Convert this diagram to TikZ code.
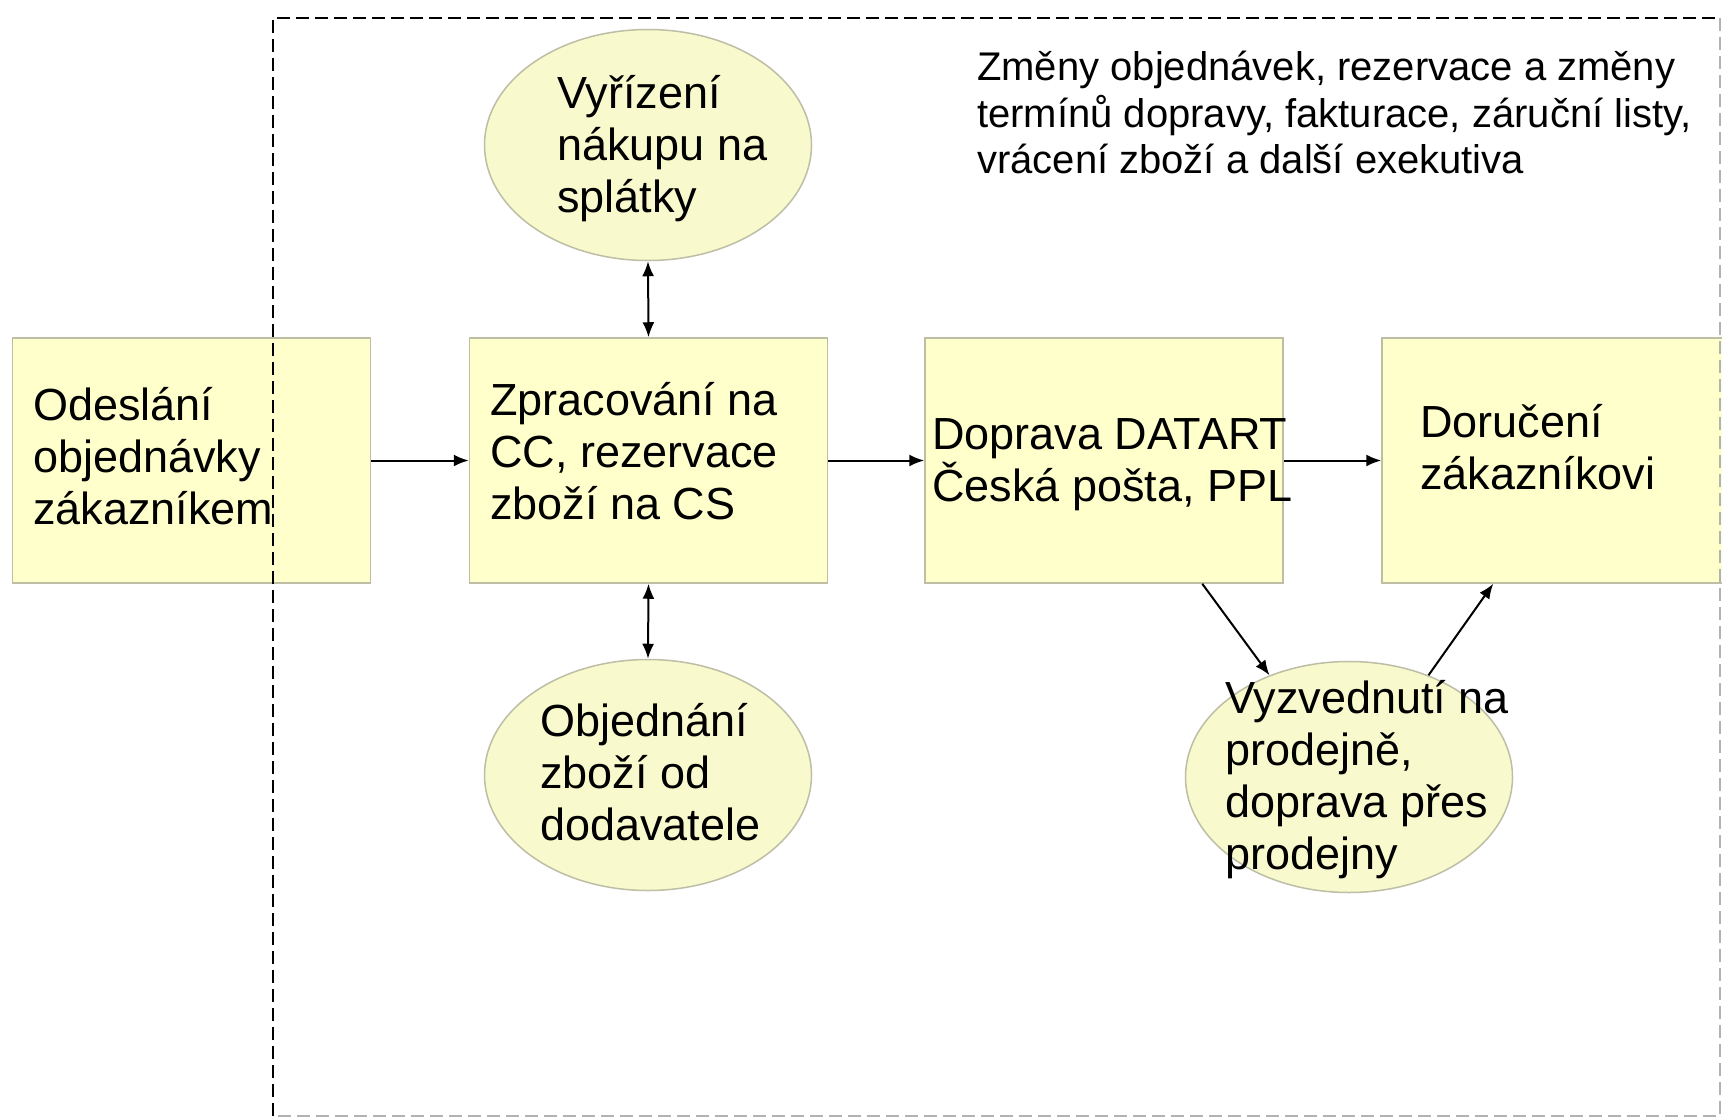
\documentclass[tikz,border=0pt]{standalone}
\usepackage{fontspec}
\setmainfont{Liberation Sans}
\usetikzlibrary{shapes.geometric,arrows.meta,calc}
\definecolor{boxfill}{RGB}{255,255,204}
\definecolor{ellfill}{RGB}{249,249,206}
\definecolor{edgecol}{RGB}{190,190,165}
\begin{document}
\begin{tikzpicture}[x=1pt,y=-1pt,
  box/.style={draw=edgecol,line width=1.5pt,fill=boxfill,rectangle,minimum width=358pt,minimum height=245pt,inner sep=0pt},
  ell/.style={draw=edgecol,line width=1.5pt,fill=ellfill,ellipse,minimum width=327pt,minimum height=231pt,inner sep=0pt},
  txt/.style={anchor=west,align=left,inner sep=0pt,font=\fontsize{45}{52}\selectfont},
  smalltxt/.style={anchor=west,align=left,inner sep=0pt,font=\fontsize{40}{46.5}\selectfont},
  arr/.style={line width=2pt,-{Latex[length=15pt,width=12pt]}},
  darr/.style={line width=2pt,{Latex[length=15pt,width=12pt]}-{Latex[length=15pt,width=12pt]}}
]
\useasboundingbox[fill=white] (0,0) rectangle (1722,1119);

% shapes
\node[box] (b1) at (191.5,460.5) {};
\node[box] (b2) at (648.5,460.5) {};
\node[box] (b3) at (1104,460.5) {};
\node[box] (b4) at (1561,460.5) {};
\node[ell] (e1) at (648,145) {};
\node[ell] (e2) at (648,775) {};
\node[ell] (e3) at (1349,777) {};

% texts
\node[txt] (t1) at (33,456) {Odeslání\\objednávky\\zákazníkem};
\node[txt] (t2) at (490,451) {Zpracování na\\CC, rezervace\\zboží na CS};
\node[txt] (t3) at (932,465) {Doprava DATART\\Česká pošta, PPL};
\node[txt] (t4) at (1420,447.5) {Doručení\\zákazníkovi};
\node[txt] (t5) at (557,148.5) {Vyřízení\\nákupu na\\splátky};
\node[txt] (t6) at (540,772) {Objednání\\zboží od\\dodavatele};
\node[txt] (t7) at (1225,780) {Vyzvednutí na\\prodejně,\\doprava přes\\prodejny};
\node[smalltxt] (t8) at (977,112.5) {Změny objednávek, rezervace a změny\\termínů dopravy, fakturace, záruční listy,\\vrácení zboží a další exekutiva};

% connectors
\draw[arr] (b1.east) -- (b2.west);
\draw[arr] (b2.east) -- (b3.west);
\draw[arr] (b3.east) -- (b4.west);
\draw[darr] (e1.south) -- (b2.north);
\draw[darr] (b2.south) -- (e2.north);
\draw[arr] ($(b3.south west)+(278,0)$) -- (e3.128);
\draw[arr] (e3.52) -- ($(b4.south west)+(112,0)$);

% dashed frame
\coordinate (fTL) at (273,18);
\coordinate (fTR) at (1720,18);
\coordinate (fBL) at (273,1116);
\coordinate (fBR) at (1720,1116);
\draw[line width=2pt,dash pattern=on 13pt off 6pt] (fBL) -- (fTL) -- (fTR);
\draw[line width=2pt,black!30,dash pattern=on 13pt off 6pt] (fTR) -- (fBR) -- (fBL);
\end{tikzpicture}
\end{document}
